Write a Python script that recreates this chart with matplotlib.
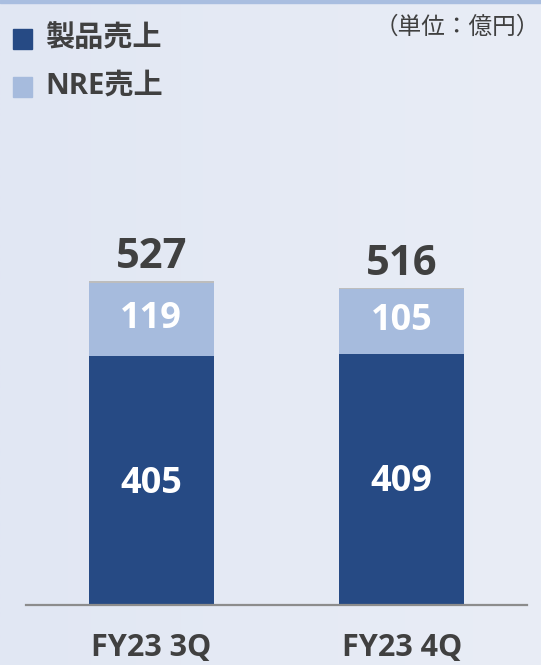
import numpy as np
import matplotlib.pyplot as plt
from matplotlib.colors import LinearSegmentedColormap

plt.rcParams['font.family'] = ['Open Sans', 'Noto Sans CJK JP', 'DejaVu Sans']

quarters = ['FY23 3Q', 'FY23 4Q']
product = [405, 409]   # 製品売上
nre = [119, 105]       # NRE売上
other = [3, 2]         # 調整分 (灰色の細い帯)
totals = [527, 516]
legend_names = ['製品売上', 'NRE売上']

c_prod = '#264a84'
c_nre = '#a6bbdd'
c_other = '#bdbdbd'
c_text = '#404040'

W, H = 541, 665
fig = plt.figure(figsize=(W / 100, H / 100), dpi=100)

# 背景のグラデーション
bg = fig.add_axes([0, 0, 1, 1], zorder=-10)
g = np.linspace(0, 1, 256)[None, :]
cmap = LinearSegmentedColormap.from_list('bg', ['#e1e7f3', '#e9edf6'])
bg.imshow(g, aspect='auto', cmap=cmap, extent=[0, 1, 0, 1])
bg.axhspan(1 - 3 / H, 1, color='#a9bee0')
bg.set_xlim(0, 1)
bg.set_ylim(0, 1)
bg.axis('off')

# 棒グラフ本体
ax = fig.add_axes([26 / W, (H - 605) / H, (527 - 26) / W, (605 - 110) / H])
ax.patch.set_alpha(0)
x = np.arange(len(quarters))
ax.bar(x, product, width=0.5, color=c_prod)
ax.bar(x, nre, width=0.5, bottom=product, color=c_nre)
ax.bar(x, other, width=0.5, bottom=np.add(product, nre), color=c_other)

ax.set_xlim(-0.5, 1.5)
ax.set_ylim(0, 805)
for s in ['top', 'right', 'left']:
    ax.spines[s].set_visible(False)
ax.spines['bottom'].set_color('#8c8c8c')
ax.spines['bottom'].set_linewidth(1.6)
ax.set_yticks([])
ax.set_xticks(x)
ax.set_xticklabels(quarters, fontsize=22, fontweight='bold', color=c_text)
ax.tick_params(axis='x', length=0, pad=20)

for i in x:
    ax.text(i, product[i] / 2 - 5, str(product[i]), ha='center', va='center',
            fontsize=26, fontweight='bold', color='white')
    ax.text(i, product[i] + nre[i] / 2, str(nre[i]), ha='center', va='center',
            fontsize=26, fontweight='bold', color='white')
    ax.text(i, totals[i] + 5, str(totals[i]), ha='center', va='bottom',
            fontsize=30, fontweight='bold', color=c_text)

# 凡例
for k, (name, col) in enumerate(zip(legend_names, [c_prod, c_nre])):
    yc = 1 - (38.5 + 48 * k) / H
    fig.patches.append(plt.Rectangle((13 / W, yc - 10 / H), 19 / W, 20 / H,
                                     transform=fig.transFigure, color=col))
    fig.text(45 / W, yc, name, ha='left', va='center', fontsize=21,
             fontweight='bold', color=c_text)

fig.text(540 / W, 1 - 27 / H, '（単位：億円）', ha='right', va='center',
         fontsize=17, color=c_text, family=['Noto Sans CJK JP'])

fig.savefig('out.png', dpi=100)
